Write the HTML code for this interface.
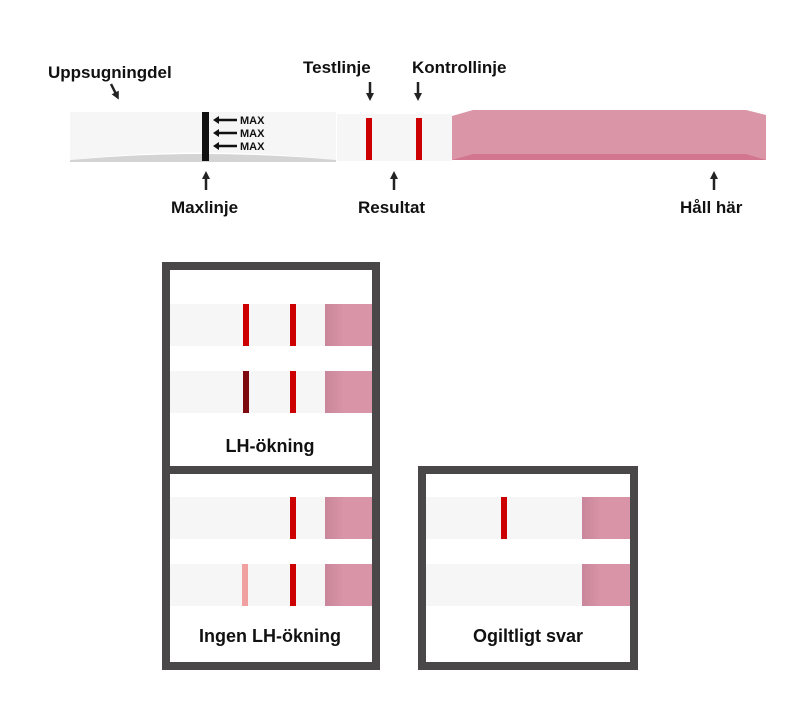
<!DOCTYPE html>
<html><head><meta charset="utf-8"><style>
body{margin:0;background:#fff;width:800px;height:713px;overflow:hidden}
text{font-family:"Liberation Sans",sans-serif;font-weight:bold;fill:#111}
</style></head><body>
<svg width="800" height="713" viewBox="0 0 800 713" xmlns="http://www.w3.org/2000/svg">
<defs>
<marker id="ah" markerWidth="8" markerHeight="8" refX="4" refY="4" orient="auto" markerUnits="userSpaceOnUse"><path d="M0,0 L8,4 L0,8 z" fill="#222"/></marker>
<linearGradient id="pg" x1="0" x2="1"><stop offset="0" stop-color="#c9869a"/><stop offset="0.4" stop-color="#d995a7"/><stop offset="1" stop-color="#d995a7"/></linearGradient>
</defs>
<!-- top labels -->
<g font-size="17">
<text x="48" y="78">Uppsugningdel</text>
<text x="303" y="73">Testlinje</text>
<text x="412" y="73">Kontrollinje</text>
<text x="171" y="213">Maxlinje</text>
<text x="358" y="213">Resultat</text>
<text x="680" y="213">Håll här</text>
</g>
<g stroke="#222" stroke-width="2.5" fill="none">
<line x1="111" y1="84" x2="117" y2="96" marker-end="url(#ah)"/>
<line x1="370" y1="82" x2="370" y2="97" marker-end="url(#ah)"/>
<line x1="418" y1="82" x2="418" y2="97" marker-end="url(#ah)"/>
<line x1="206" y1="190" x2="206" y2="175" marker-end="url(#ah)"/>
<line x1="394" y1="190" x2="394" y2="175" marker-end="url(#ah)"/>
<line x1="714" y1="190" x2="714" y2="175" marker-end="url(#ah)"/>
</g>
<!-- top strip -->
<path d="M70,112 H336 V160 Q200,145 70,160 Z" fill="#f6f6f6"/>
<path d="M70,160 Q200,148 336,160 V162 H70 Z" fill="#d4d4d4"/>
<rect x="337" y="114" width="115" height="47" fill="#f6f6f6"/>
<rect x="202" y="112" width="7" height="49" fill="#111"/>
<g font-size="11" font-family="Liberation Sans">
<text x="240" y="124">MAX</text><text x="240" y="137">MAX</text><text x="240" y="150">MAX</text>
</g>
<g stroke="#111" stroke-width="2.5">
<line x1="216" y1="120" x2="237" y2="120"/><line x1="216" y1="133" x2="237" y2="133"/><line x1="216" y1="146" x2="237" y2="146"/>
</g>
<g fill="#111"><path d="M213,120 l6,-4 v8z"/><path d="M213,133 l6,-4 v8z"/><path d="M213,146 l6,-4 v8z"/></g>
<rect x="366" y="118" width="6" height="42" fill="#cc0000"/>
<rect x="416" y="118" width="6" height="42" fill="#cc0000"/>
<path d="M452,116 L473,110 H746 L766,115 V160 H452 Z" fill="#da95a7"/>
<path d="M452,160 L473,154 H746 L766,160 Z" fill="#d27690"/>
<!-- boxes -->
<rect x="166" y="266" width="210" height="400" fill="none" stroke="#4a4748" stroke-width="8"/>
<rect x="166" y="466" width="210" height="8" fill="#4a4748"/>
<rect x="422" y="470" width="212" height="196" fill="none" stroke="#4a4748" stroke-width="8"/>
<g>
<rect x="170" y="304" width="155" height="42" fill="#f6f6f6"/><rect x="325" y="304" width="47" height="42" fill="url(#pg)"/>
<rect x="243" y="304" width="6" height="42" fill="#cc0000"/><rect x="290" y="304" width="6" height="42" fill="#cc0000"/>
<rect x="170" y="371" width="155" height="42" fill="#f6f6f6"/><rect x="325" y="371" width="47" height="42" fill="url(#pg)"/>
<rect x="243" y="371" width="6" height="42" fill="#7d0a0f"/><rect x="290" y="371" width="6" height="42" fill="#cc0000"/>
<rect x="170" y="497" width="155" height="42" fill="#f6f6f6"/><rect x="325" y="497" width="47" height="42" fill="url(#pg)"/>
<rect x="290" y="497" width="6" height="42" fill="#cc0000"/>
<rect x="170" y="564" width="155" height="42" fill="#f6f6f6"/><rect x="325" y="564" width="47" height="42" fill="url(#pg)"/>
<rect x="242" y="564" width="6" height="42" fill="#f0a0a0"/><rect x="290" y="564" width="6" height="42" fill="#cc0000"/>
<rect x="426" y="497" width="156" height="42" fill="#f6f6f6"/><rect x="582" y="497" width="48" height="42" fill="url(#pg)"/>
<rect x="501" y="497" width="6" height="42" fill="#cc0000"/>
<rect x="426" y="564" width="156" height="42" fill="#f6f6f6"/><rect x="582" y="564" width="48" height="42" fill="url(#pg)"/>
</g>
<g font-size="18" text-anchor="middle" font-weight="normal">
<text x="270" y="452">LH-ökning</text>
<text x="270" y="642">Ingen LH-ökning</text>
<text x="528" y="642">Ogiltligt svar</text>
</g>
</svg>
</body></html>
